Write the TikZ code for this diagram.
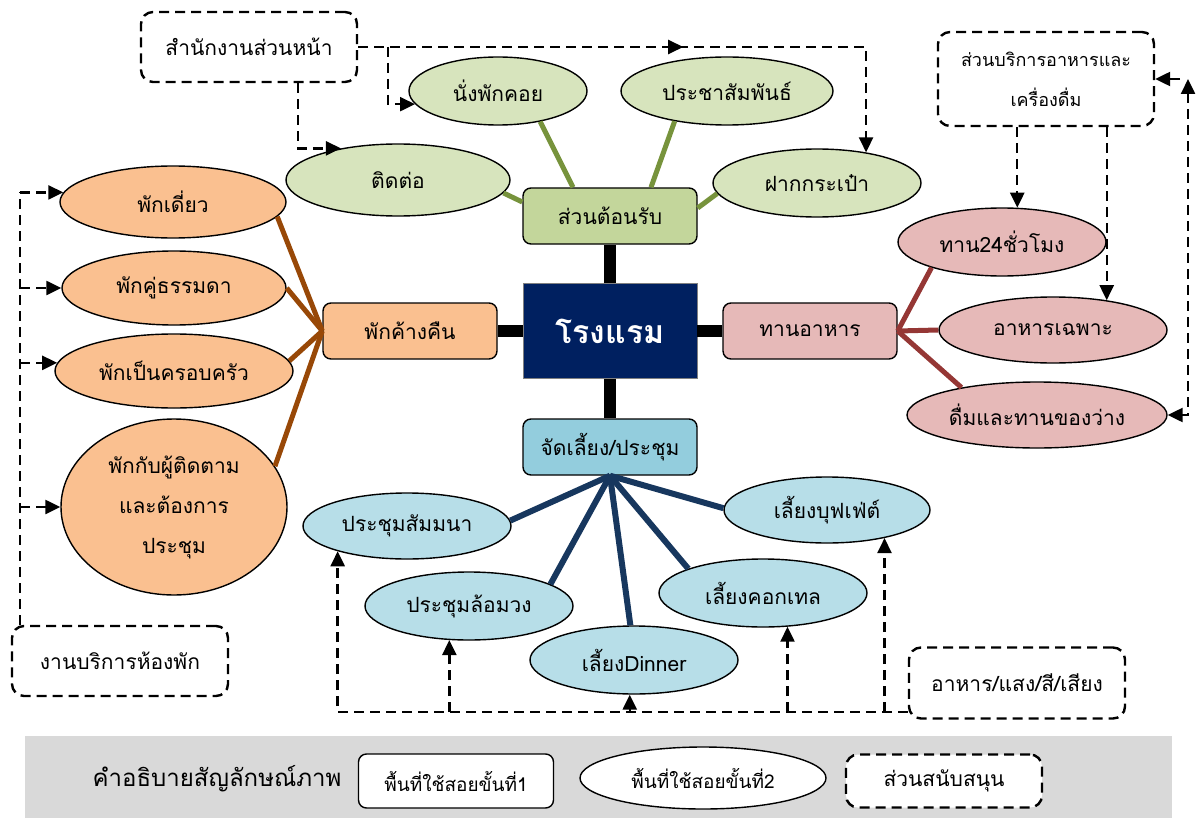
\documentclass[tikz,border=0pt]{standalone}
\usepackage{fontspec}
\setmainfont[Script=Thai]{Loma}
\usetikzlibrary{shapes.geometric,arrows.meta,decorations.markings}
\definecolor{hotelnavy}{RGB}{0,32,96}
\definecolor{recgreen}{RGB}{195,214,155}
\definecolor{leafgreen}{RGB}{215,228,189}
\definecolor{linegreen}{RGB}{119,147,60}
\definecolor{stayorange}{RGB}{250,192,144}
\definecolor{linebrown}{RGB}{152,72,7}
\definecolor{dinepink}{RGB}{230,185,184}
\definecolor{linered}{RGB}{149,55,53}
\definecolor{meetblue}{RGB}{147,205,221}
\definecolor{leafblue}{RGB}{183,222,232}
\definecolor{lineblue}{RGB}{23,55,94}
\definecolor{legendgray}{RGB}{217,217,217}
\tikzset{
    %Define standard arrow tip
    >={Triangle[length=7.5pt,width=7pt]},
    every node/.style={font=\fontsize{10.5}{20}\selectfont, inner sep=0pt},
    hub/.style={rectangle, draw=gray, fill=hotelnavy, text=white, font=\fontsize{16}{18}\selectfont\bfseries, minimum width=87pt, minimum height=47.5pt},
    zone/.style={rectangle, draw, line width=0.7pt, rounded corners=4pt, minimum width=87pt, minimum height=28pt},
    leaf/.style={ellipse, draw, line width=0.7pt, minimum width=104pt, minimum height=34pt},
    helper/.style={rectangle, draw, line width=1.2pt, dash pattern=on 5pt off 3pt, rounded corners=6pt, minimum width=108pt, minimum height=35pt},
    trunk/.style={line width=6pt},
    twig/.style={line width=2.5pt},
    supp/.style={line width=1.2pt, dash pattern=on 5pt off 3pt},
    midarrow/.style={postaction={decorate}, decoration={markings, mark=at position #1 with {\arrow{>}}}}
}
\begin{document}
\begin{tikzpicture}[x=0.5pt,y=-0.5pt]
    \useasboundingbox (0,0) rectangle (1197,818);
    % legend band
    \fill[legendgray] (25,736) rectangle (1172,818);
    \node[font=\fontsize{12}{14}\selectfont] (legendtitle) at (217,779) {คำอธิบายสัญลักษณ์ภาพ};
    \node[zone, fill=white, minimum width=97.5pt, minimum height=27pt, font=\fontsize{9.5}{11}\selectfont] (keyone) at (456,781) {พื้นที่ใช้สอยขั้นที่1};
    \node[leaf, fill=white, minimum width=123pt, minimum height=31pt, font=\fontsize{9.5}{11}\selectfont] (keytwo) at (703,778) {พื้นที่ใช้สอยขั้นที่2};
    \node[helper, fill=white, minimum width=98pt, minimum height=26.5pt] (keythree) at (944,781) {ส่วนสนับสนุน};

    % main areas
    \node[hub] (hotel) at (610,331) {โรงแรม};
    \node[zone, fill=recgreen] (reception) at (610,216) {ส่วนต้อนรับ};
    \node[zone, fill=stayorange] (lodging) at (410,331) {พักค้างคืน};
    \node[zone, fill=dinepink] (dining) at (810,331) {ทานอาหาร};
    \node[zone, fill=meetblue] (banquet) at (610,447) {จัดเลี้ยง/ประชุม};
    \foreach \z in {reception,lodging,dining,banquet}
        \draw[trunk] (hotel) -- (\z);

    % reception
    \node[leaf, fill=leafgreen, minimum width=89pt] (rest) at (498,91) {นั่งพักคอย};
    \node[leaf, fill=leafgreen, minimum width=112pt, minimum height=36pt] (contact) at (398,180) {ติดต่อ};
    \node[leaf, fill=leafgreen, minimum width=106pt] (pr) at (727,91) {ประชาสัมพันธ์};
    \node[leaf, fill=leafgreen] (luggage) at (817,183) {ฝากกระเป๋า};
    \draw[twig, linegreen] (rest.-36) -- ([xshift=-18.5pt]reception.north);
    \draw[twig, linegreen] (pr.-150) -- ([xshift=20.5pt]reception.north);
    \draw[twig, linegreen] (contact.-7) -- ([yshift=7pt]reception.west);
    \draw[twig, linegreen] (luggage.-174) -- ([yshift=4pt]reception.east);

    % lodging
    \node[leaf, fill=stayorange, minimum width=113pt, minimum height=36pt] (single) at (173,202) {พักเดี่ยว};
    \node[leaf, fill=stayorange, minimum width=112pt, minimum height=37pt] (couple) at (174,288) {พักคู่ธรรมดา};
    \node[leaf, fill=stayorange, minimum width=119pt, minimum height=37pt] (family) at (174,371) {พักเป็นครอบครัว};
    \node[leaf, fill=stayorange, minimum width=113pt, minimum height=88pt, align=center] (escort) at (174,507) {พักกับผู้ติดตาม\\และต้องการ\\ประชุม};
    \foreach \g/\a in {single/-8,couple/0,family/5.5,escort/22}
        \draw[twig, linebrown] (\g.\a) -- (lodging.west);

    % dining
    \node[leaf, fill=dinepink] (allday) at (1002,242) {ทาน24ชั่วโมง};
    \node[leaf, fill=dinepink, minimum width=114pt, minimum height=33pt] (special) at (1053,330) {อาหารเฉพาะ};
    \node[leaf, fill=dinepink, minimum width=130pt, minimum height=33pt] (snack) at (1037,415) {ดื่มและทานของว่าง};
    \foreach \g/\a in {allday/-160,special/180,snack/160}
        \draw[twig, linered] (\g.\a) -- (dining.east);

    % banquet
    \node[leaf, fill=leafblue, minimum height=33pt] (seminar) at (407,526) {ประชุมสัมมนา};
    \node[leaf, fill=leafblue] (roundtable) at (469,606) {ประชุมล้อมวง};
    \node[leaf, fill=leafblue] (dinner) at (634,660) {เลี้ยงDinner};
    \node[leaf, fill=leafblue] (cocktail) at (763,593) {เลี้ยงคอกเทล};
    \node[leaf, fill=leafblue, minimum width=103pt, minimum height=33pt] (buffet) at (827,510) {เลี้ยงบุฟเฟ่ต์};
    \foreach \g/\a in {seminar/3,roundtable/15,dinner/96,cocktail/162,buffet/179}
        \draw[line width=3pt, lineblue] (\g.\a) -- (banquet.south);

    % support units
    \node[helper] (frontoffice) at (249,47) {สำนักงานส่วนหน้า};
    \node[helper, minimum height=47pt, align=center, font=\fontsize{9}{20}\selectfont] (fnb) at (1046,79) {ส่วนบริการอาหารและ\\เครื่องดื่ม};
    \node[helper] (roomsvc) at (120,661) {งานบริการห้องพัก};
    \node[helper, minimum height=35.5pt] (av) at (1017,683) {อาหาร/แสง/สี/เสียง};

    \coordinate (restjoin) at (388,47);
    \draw[supp, ->, midarrow=0.53] (frontoffice.east) -| (luggage.32);
    \draw[supp, ->] (restjoin) |- (rest.-171);
    \draw[supp, ->] ([xshift=24.5pt]frontoffice.south) |- (contact.151);

    \coordinate (fnbrail) at (1188,79);
    \draw[supp, ->] (allday.66 |- fnb.south) -- (allday.66);
    \draw[supp, ->] (special.29 |- fnb.south) -- (special.29);
    \draw[supp, <->] (fnbrail) |- (snack.east);
    \draw[supp, ->] ([xshift=-4pt]fnbrail) -- (fnb.east);

    \coordinate (roomrail) at (20,192);
    \draw[supp] (roomsvc.north -| roomrail) -- (roomrail);
    \foreach \g/\a in {single/175,couple/180,family/176,escort/180}
        \draw[supp, ->] (roomrail |- \g.\a) -- (\g.\a);

    \coordinate (avrail) at (0,712);
    \draw[supp, ->] ([yshift=-14.5pt]av.west) -| (seminar.-160);
    \foreach \g/\a in {roundtable/-120,dinner/-97,cocktail/-54,buffet/-26}
        \draw[supp, ->] (\g.\a |- avrail) -- (\g.\a);
\end{tikzpicture}
\end{document}
